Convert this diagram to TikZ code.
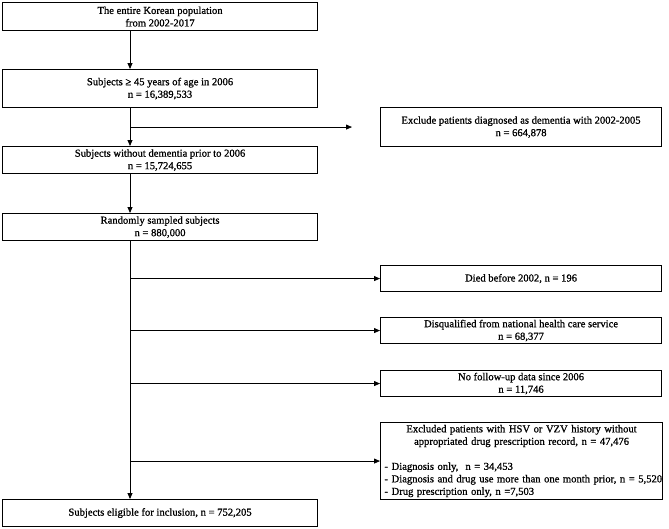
\documentclass[tikz,border=0pt]{standalone}
\usepackage{fontspec}
\setmainfont{Liberation Serif}[FakeBold=0.9]
\usetikzlibrary{arrows.meta}
\begin{document}
\begin{tikzpicture}[x=1pt,y=1pt,
  box/.style={draw, line width=1.1pt, inner sep=0pt, anchor=north west, align=center,
              font=\fontsize{10.6}{12.5}\selectfont},
  lbox/.style={box, minimum width=315pt},
  rbox/.style={box, minimum width=281pt},
  arr/.style={line width=0.8pt, -{Triangle[length=6pt,width=5pt]}}]
\useasboundingbox (0,0) rectangle (669,-528);
\coordinate (tx) at (130,0);
\node[lbox, minimum height=28pt] (b1) at (2,-2) {The entire Korean population\\from 2002-2017};
\node[lbox, minimum height=38pt] (b2) at (2,-69) {Subjects ≥ 45 years of age in 2006\\n = 16,389,533};
\node[rbox, minimum height=39pt] (ex) at (380,-107) {Exclude patients diagnosed as dementia with 2002-2005\\n = 664,878};
\node[lbox, minimum height=27pt] (b3) at (2,-146) {Subjects without dementia prior to 2006\\n = 15,724,655};
\node[lbox, minimum height=27pt] (b4) at (2,-213) {Randomly sampled subjects\\n = 880,000};
\node[rbox, minimum height=26pt] (died) at (380,-265) {Died before 2002, n = 196};
\node[rbox, minimum height=26pt] (disq) at (380,-317) {Disqualified from national health care service\\n = 68,377};
\node[rbox, minimum height=26pt] (nofu) at (380,-370) {No follow-up data since 2006\\n = 11,746};
\node[rbox, minimum height=77pt, text width=274pt, inner xsep=4pt, align=left] (hsv) at (380,-422)
  {\centering Excluded patients with HSV or VZV history without\\appropriated drug prescription record, n = 47,476\par
   \vspace{12.5pt}\raggedright
   \mbox{- Diagnosis only,~ n = 34,453}\\
   \mbox{- Diagnosis and drug use more than one month prior, n = 5,520}\\
   \mbox{- Drug prescription only, n =7,503}\par};
\node[lbox, minimum height=27pt] (fin) at (2,-499) {Subjects eligible for inclusion, n = 752,205};

\draw[arr] (tx |- b1.south) -- (tx |- b2.north);
\draw[arr] (tx |- b2.south) -- (tx |- b3.north);
\draw[arr, shorten >=28pt] (tx |- ex.west) -- (ex.west);
\draw[arr] (tx |- b3.south) -- (tx |- b4.north);
\draw[arr] (tx |- b4.south) -- (tx |- fin.north);
\draw[arr] (tx |- died.west) -- (died.west);
\draw[arr] (tx |- disq.west) -- (disq.west);
\draw[arr] (tx |- nofu.west) -- (nofu.west);
\draw[arr] (tx |- hsv.west) -- (hsv.west);
\end{tikzpicture}
\end{document}
